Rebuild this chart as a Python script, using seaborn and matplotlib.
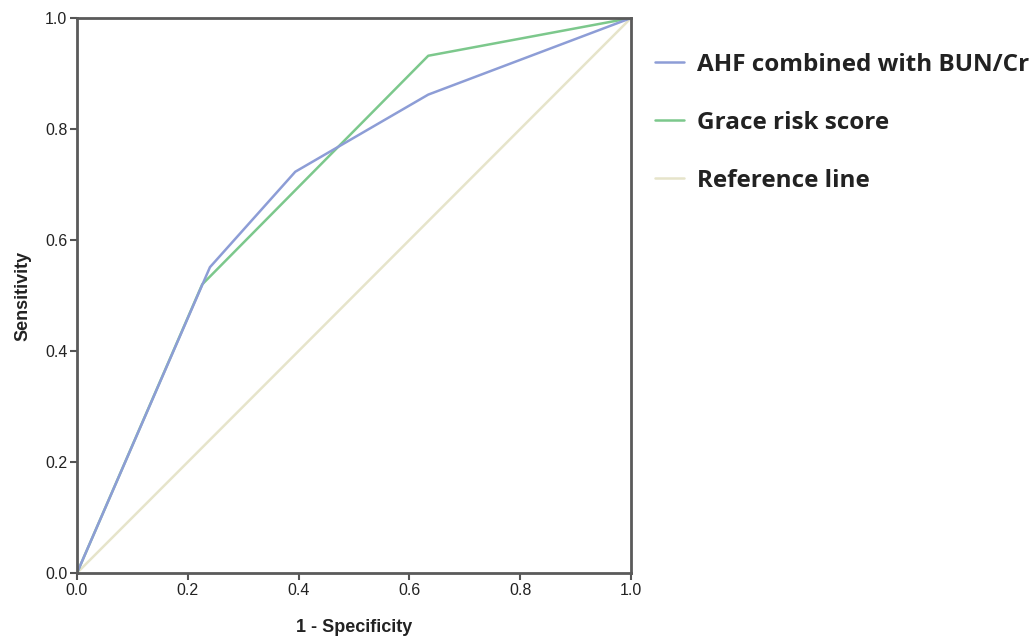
import matplotlib
matplotlib.use("Agg")
import matplotlib.pyplot as plt
import seaborn as sns
import pandas as pd

# ROC points
ahf_fpr = [0.0, 0.24, 0.394, 0.634, 1.0]
ahf_tpr = [0.0, 0.551, 0.723, 0.862, 1.0]
grace_fpr = [0.0, 0.226, 0.634, 1.0]
grace_tpr = [0.0, 0.52, 0.932, 1.0]
ref_x = [0.0, 1.0]
ref_y = [0.0, 1.0]

labels = ["AHF combined with BUN/Cr", "Grace risk score", "Reference line"]
colors = ["#8d9dd6", "#7cc88c", "#e6e4ca"]

sns.set_style("white")
plt.rcParams["font.family"] = ["Liberation Sans", "DejaVu Sans"]

fig = plt.figure(figsize=(10.36, 6.39), dpi=100)
ax = fig.add_axes([0.0743, 0.1033, 0.5348, 0.8685])

sns.lineplot(x=ref_x, y=ref_y, ax=ax, color=colors[2], lw=1.8, label=labels[2])
sns.lineplot(x=grace_fpr, y=grace_tpr, ax=ax, color=colors[1], lw=1.8, sort=False, label=labels[1])
sns.lineplot(x=ahf_fpr, y=ahf_tpr, ax=ax, color=colors[0], lw=1.8, sort=False, label=labels[0])

ax.set_xlim(0, 1)
ax.set_ylim(0, 1)
ax.set_xticks([0, 0.2, 0.4, 0.6, 0.8, 1.0])
ax.set_yticks([0, 0.2, 0.4, 0.6, 0.8, 1.0])
ax.xaxis.set_major_formatter(matplotlib.ticker.FormatStrFormatter("%.1f"))
ax.yaxis.set_major_formatter(matplotlib.ticker.FormatStrFormatter("%.1f"))
ax.tick_params(direction="out", length=5, width=1.5, color="#555555",
               labelsize=11.5, labelcolor="#222222", pad=2,
               bottom=True, left=True)
for s in ax.spines.values():
    s.set_color("#5a5a5a")
    s.set_linewidth(2)

ax.set_xlabel("1 - Specificity", fontsize=13, fontweight="bold", color="#222222", labelpad=15)
ax.set_ylabel("Sensitivity", fontsize=13, fontweight="bold", color="#222222", labelpad=10)

h, l = ax.get_legend_handles_labels()
order = [l.index(x) for x in labels]
leg = ax.legend([h[i] for i in order], [l[i] for i in order],
                loc="upper left", bbox_to_anchor=(1.025, 0.955),
                frameon=False, handlelength=1.23, handletextpad=0.5,
                labelspacing=1.4, borderaxespad=0,
                prop={"family": "Open Sans", "weight": "bold", "size": 17.5})
for t in leg.get_texts():
    t.set_color("#222222")

fig.savefig("out.png", dpi=100)
